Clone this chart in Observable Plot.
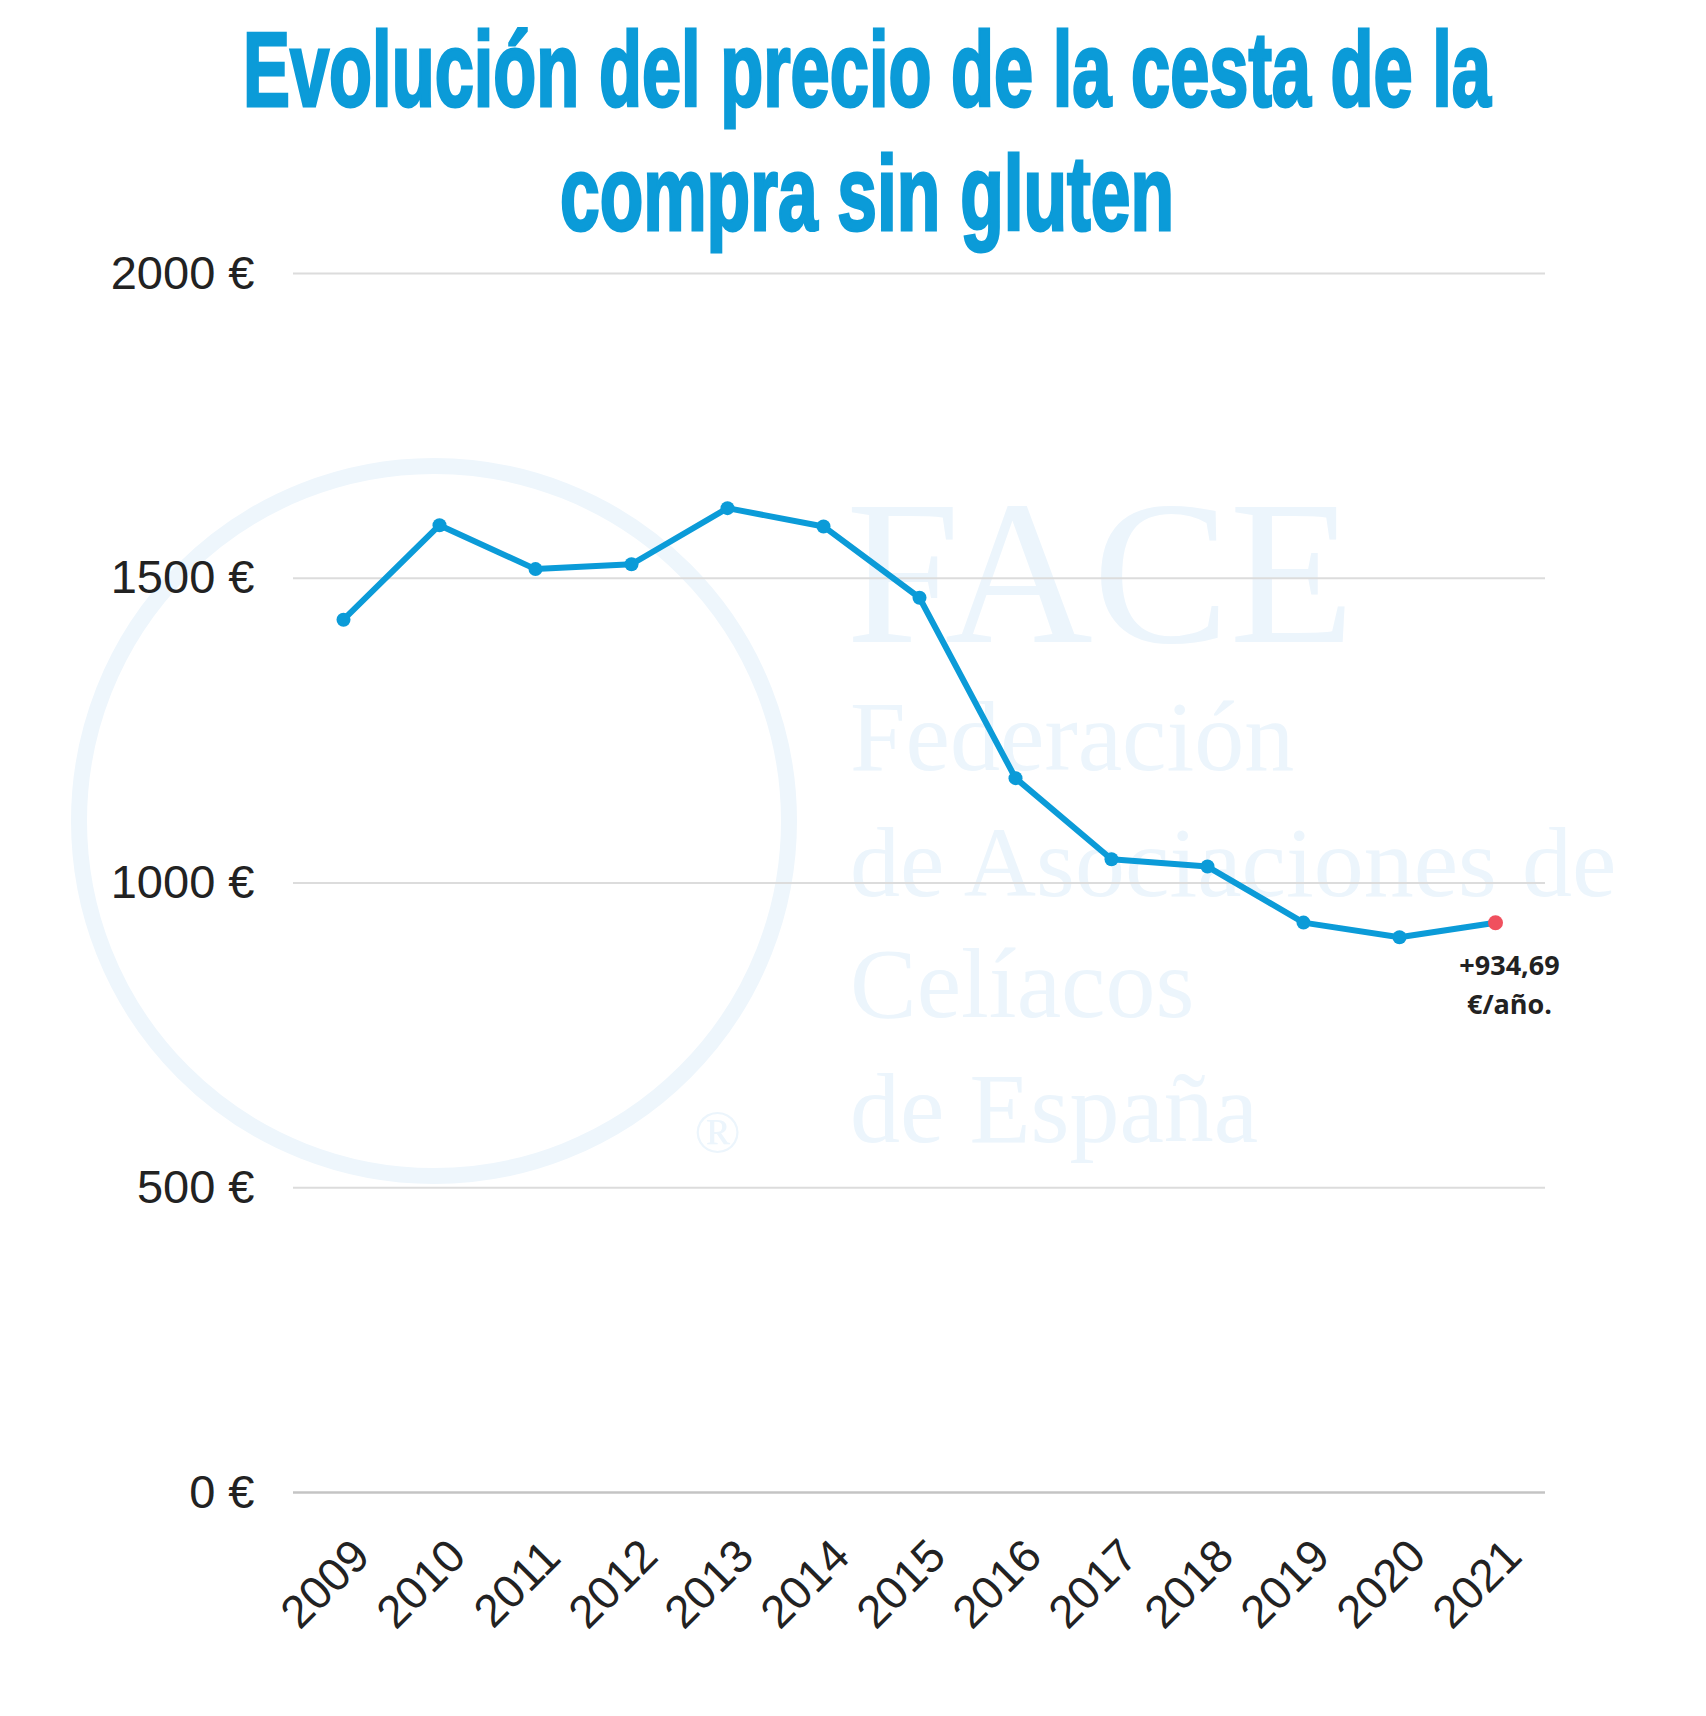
<!DOCTYPE html>
<html><head><meta charset="utf-8">
<script src="https://cdn.jsdelivr.net/npm/d3@7"></script>
<script src="https://cdn.jsdelivr.net/npm/@observablehq/plot@0.6"></script>
<style>
html,body{margin:0;padding:0;background:#fff;}
#page{position:relative;width:1706px;height:1716px;overflow:hidden;background:#fff;}
#title{position:relative;height:240px;width:1706px;z-index:1;}
.tl{position:absolute;left:0;width:1706px;height:110px;font-family:"Liberation Sans Narrow","Liberation Sans",sans-serif;font-weight:700;font-size:106px;line-height:1;color:#0b9bd8;white-space:nowrap;-webkit-text-stroke:3px #0b9bd8;}
.tl span{position:absolute;left:867px;top:0;display:inline-block;transform-origin:50% 50%;}
.wm{position:absolute;font-family:"Liberation Serif",serif;color:#ecf5fc;white-space:nowrap;line-height:1;}
#ring{position:absolute;left:71px;top:458px;width:694px;height:694px;border:16px solid #eef6fc;border-radius:50%;}
#chart{position:relative;z-index:1;}
</style></head>
<body><div id="page">
<div id="ring"></div>
<div class="wm" style="left:846px;top:470px;font-size:205px;">FACE</div>
<div class="wm" style="left:850px;top:687px;font-size:100px;">Federación</div>
<div class="wm" style="left:850px;top:813px;font-size:100px;">de Asociaciones de</div>
<div class="wm" style="left:850px;top:934px;font-size:100px;">Celíacos</div>
<div class="wm" style="left:850px;top:1059px;font-size:100px;">de España</div>
<div class="wm" style="left:694px;top:1100px;font-size:62px;">®</div>
<div id="title">
  <div class="tl" id="t1" style="top:16px;"><span>Evolución del precio de la cesta de la</span></div>
  <div class="tl" id="t2" style="top:140px;"><span>compra sin gluten</span></div>
</div>
<div id="chart"></div>
</div>
<script>
const years = ["2009","2010","2011","2012","2013","2014","2015","2016","2017","2018","2019","2020","2021"];
const prices = [1432, 1587, 1515, 1523, 1615, 1585, 1468, 1172, 1039, 1027, 935, 911, 934.69];
const yTicks = [0, 500, 1000, 1500, 2000];
const annotationText = "+934,69\n€/año.";

const blue = "#0b9bd8";
const data = years.map((year, i) => ({year, value: prices[i]}));
const last = data[data.length - 1];

const chart = Plot.plot({
  width: 1706,
  height: 1476,
  marginTop: 33,
  marginBottom: 224,
  marginLeft: 293,
  marginRight: 161,
  style: {background: "transparent", overflow: "visible", fontFamily: "'Liberation Sans', Arial, sans-serif", color: "#222"},
  x: {type: "point", domain: years, padding: 0.5, label: null},
  y: {domain: [0, 2000], label: null},
  marks: [
    Plot.ruleY(yTicks.filter(d => d !== 0), {stroke: "#dcdcdc", strokeWidth: 2}),
    Plot.ruleY([0], {stroke: "#c4c4c4", strokeWidth: 2.5}),
    Plot.axisY(yTicks, {tickSize: 0, tickPadding: 39, fontSize: 47, tickFormat: d => `${d} €`, fill: "#222", label: null}),
    Plot.axisX({tickSize: 0, tickRotate: -45, fontSize: 46, textAnchor: "middle", lineAnchor: "middle", tickPadding: 92, dx: -18, fill: "#222", label: null}),
    Plot.line(data, {x: "year", y: "value", stroke: blue, strokeWidth: 6, strokeLinejoin: "round", strokeLinecap: "round"}),
    Plot.dot(data.slice(0, -1), {x: "year", y: "value", r: 7, fill: blue}),
    Plot.dot([last], {x: "year", y: "value", r: 7.5, fill: "#f0505e"}),
    Plot.text([last], {x: "year", y: "value", text: () => annotationText, fontFamily: "'Open Sans', sans-serif", fontWeight: "bold", fontSize: 27, lineHeight: 1.44, lineAnchor: "middle", dx: 14, dy: 59, fill: "#222"})
  ]
});
document.getElementById("chart").appendChild(chart);

function fitTitle() {
  const targets = {t1: 1248, t2: 614};
  for (const id in targets) {
    const span = document.querySelector(`#${id} span`);
    span.style.transform = "none";
    const w = span.getBoundingClientRect().width;
    span.style.transform = `translateX(-50%) scaleX(${targets[id] / w})`;
  }
}
fitTitle();
if (document.fonts && document.fonts.ready) document.fonts.ready.then(fitTitle);
</script>
</body></html>
